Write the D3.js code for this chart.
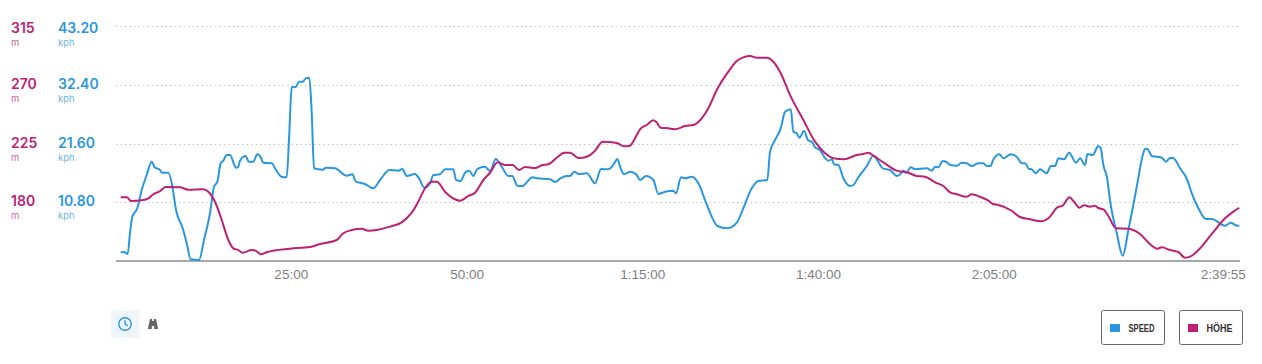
<!DOCTYPE html>
<html>
<head>
<meta charset="utf-8">
<script src="https://cdn.jsdelivr.net/npm/d3@7"></script>
<style>
    html, body { margin: 0; padding: 0; background: #fff; }
    svg { display: block; }
    .y-value { font-family: Inter, "Open Sans", sans-serif; font-weight: 600; font-size: 14px; }
    .y-unit { font-family: Inter, "Open Sans", sans-serif; font-size: 9.5px; opacity: 0.7; }
    .x-axis text { font-family: "Liberation Sans", sans-serif; font-size: 13.5px; fill: #808080; }
    .legend-label { font-family: "Liberation Sans", sans-serif; font-weight: 700; font-size: 11.5px; fill: #333; }
</style>
</head>
<body>
<svg id="chart" width="1262" height="364"></svg>
<script>
const blue = "#2a96de";
const magenta = "#bc2176";

// minutes / kph
const speedTimes = [0.81,1.28,1.81,2.13,2.46,3.17,3.80,4.51,5.22,5.69,6.30,6.73,7.58,8.07,8.68,9.63,10.20,10.77,11.95,12.66,13.51,14.08,14.55,15.04,15.41,15.89,16.36,17.21,17.54,17.78,18.59,19.02,19.67,20.24,20.63,21.10,22.29,22.90,23.71,24.42,24.79,25.13,25.75,26.17,26.70,27.13,27.64,27.98,28.31,29.54,30.01,31.29,32.96,33.76,34.28,35.56,36.74,37.70,39.02,40.30,40.87,41.49,42.67,43.24,44.00,44.81,45.28,46.23,46.94,48.12,48.51,49.17,49.79,50.36,50.97,51.54,52.63,53.34,54.15,55.01,55.95,56.51,57.23,57.94,59.36,59.99,61.88,62.59,63.30,64.25,64.72,65.33,65.90,67.10,68.28,69.13,70.17,70.88,71.45,71.84,72.40,73.36,74.21,74.68,75.53,76.57,77.28,78.24,79.42,79.80,80.51,81.08,82.03,83.11,83.92,84.88,85.68,87.10,88.44,89.37,90.57,91.51,92.79,93.17,93.88,94.69,95.31,96.12,96.49,96.97,97.34,98.01,98.62,99.10,99.57,100.28,100.85,101.46,101.95,102.28,102.89,103.60,104.55,105.02,105.73,106.93,107.87,109.20,110.24,111.19,111.56,112.13,112.52,113.19,113.80,115.46,116.17,116.64,117.11,117.74,118.21,118.78,119.73,120.44,121.15,121.86,122.80,123.51,123.99,124.56,124.85,125.79,126.36,127.41,128.26,128.98,129.45,130.01,130.30,130.97,131.58,132.53,133.10,133.71,134.18,134.99,135.70,136.70,137.27,137.98,138.31,139.07,139.87,140.21,140.58,141.07,141.63,142.49,143.34,144.14,145.33,146.19,146.51,146.84,147.47,148.89,149.50,149.97,150.46,151.49,152.53,153.16,154.10,155.19,156.00,157.89,158.70,159.32,159.92];
const speedValues = [1.60,1.65,1.29,5.15,8.14,9.69,13.05,15.81,18.25,17.15,16.86,16.23,16.23,14.34,9.38,6.01,3.25,0.31,0.18,3.86,8.77,13.66,14.58,17.96,18.44,19.49,19.49,17.15,17.33,18.44,19.30,18.25,18.25,19.61,19.30,18.07,17.96,16.73,15.50,15.39,23.47,31.93,32.04,32.96,32.96,33.58,33.70,27.21,17.04,16.78,17.15,17.04,15.68,15.94,14.58,14.15,13.36,14.89,16.73,16.60,16.91,15.63,15.99,15.20,13.47,14.28,15.81,15.94,16.86,16.86,14.89,14.71,16.23,16.60,15.63,16.91,17.33,16.54,18.75,17.33,15.63,15.63,13.84,13.79,15.39,15.20,15.02,14.52,15.13,15.63,15.63,16.42,15.99,16.12,14.28,16.91,16.86,17.65,18.75,17.33,15.94,16.42,15.81,14.89,15.63,14.89,12.32,12.74,12.92,12.44,15.39,15.20,15.50,13.97,11.21,8.14,6.43,6.01,7.04,9.69,13.36,14.71,14.89,20.09,22.24,24.39,27.44,27.89,23.77,23.47,22.67,23.90,22.11,21.93,20.90,20.40,19.17,18.44,18.69,17.78,17.65,15.20,13.79,13.97,15.39,17.46,19.36,17.04,16.73,15.63,15.81,16.60,16.23,17.22,16.86,17.04,16.60,17.33,17.22,18.38,18.25,17.65,17.52,18.07,17.96,17.46,17.96,17.96,17.46,17.46,18.44,19.61,18.88,19.61,19.17,17.96,17.96,16.91,16.91,16.12,16.86,16.12,17.46,17.46,18.88,18.69,19.91,18.07,18.88,17.65,19.67,19.49,21.14,20.72,17.65,15.50,10.29,5.09,0.97,5.70,13.66,19.49,20.59,20.59,19.30,18.99,18.25,18.88,18.99,17.04,14.89,12.44,9.69,7.72,7.72,6.49,7.04,6.62,6.43];

// minutes / metres
const heightTimes = [0.81,1.66,2.28,4.03,4.74,5.45,6.40,7.21,9.25,10.43,12.56,13.27,14.22,15.18,16.12,16.83,17.54,18.16,19.44,20.06,20.73,21.58,24.89,27.74,29.16,31.54,32.47,33.67,35.09,36.03,37.45,39.12,40.78,42.20,43.14,44.10,45.05,45.76,46.94,48.36,49.08,50.26,51.21,52.39,53.34,54.44,55.48,56.57,57.47,58.32,59.74,60.70,61.64,62.83,63.91,64.72,65.90,67.10,68.28,69.37,71.37,72.40,73.26,73.83,74.68,75.63,76.57,76.96,77.62,78.71,79.66,81.08,82.26,83.46,84.40,85.59,87.24,88.44,89.37,90.33,91.28,92.70,93.64,94.69,96.02,97.91,99.57,101.00,102.18,103.70,105.50,106.44,107.15,107.87,109.29,111.19,112.84,114.04,115.22,116.64,117.82,118.78,119.73,121.15,121.86,123.04,124.22,124.85,125.65,127.55,128.63,130.16,131.82,132.76,134.04,134.80,135.75,136.41,137.17,137.88,138.69,139.40,139.87,140.58,141.29,142.39,144.14,145.80,147.23,148.26,148.89,150.07,151.25,152.20,152.92,154.10,156.00,157.89,159.07,159.92];
const heightValues = [183.8,183.8,181.0,181.7,183.0,186.1,188.6,191.7,191.4,189.6,189.9,188.1,180.4,166.4,151.1,144.7,143.4,141.4,143.4,142.7,140.1,141.7,144.4,145.7,148.0,151.1,156.2,158.7,159.7,158.2,159.0,161.3,164.6,172.0,180.4,190.7,195.7,195.7,188.1,182.3,181.2,184.8,187.3,197.0,202.6,210.6,208.5,208.5,204.7,207.0,206.2,208.3,209.1,214.1,218.0,218.0,213.9,214.9,219.5,226.4,225.4,222.9,223.3,227.7,235.9,239.2,242.8,241.7,237.1,236.6,235.9,238.4,239.2,244.3,252.0,266.0,280.0,288.2,291.0,292.0,290.7,290.7,287.6,278.8,262.1,243.0,226.4,217.5,213.7,212.9,216.2,217.0,218.0,215.7,210.6,204.2,202.6,200.1,199.6,195.3,192.4,187.6,186.1,184.2,186.1,184.2,181.2,178.7,177.9,173.5,168.9,166.9,165.4,167.7,176.1,177.4,183.8,180.4,175.8,177.7,176.6,177.4,175.6,174.6,169.5,160.0,159.7,155.7,147.8,144.4,145.5,143.4,141.9,137.5,138.3,143.4,155.7,167.7,172.8,175.8];

const speedTicks = [10.8, 21.6, 32.4, 43.2];
const heightTicks = [180, 225, 270, 315];
const timeTicks = [25, 50, 75, 100, 125, 159.9167];
const legendLabels = ["SPEED", "HÖHE"];
const legendColors = [blue, magenta];

const svg = d3.select("#chart");

const x = d3.scaleLinear().domain([0, 159.9167]).range([115, 1239.3]);
const ySpeed = d3.scaleLinear().domain([0, 43.2]).range([261, 26]);
const yHeight = d3.scaleLinear().domain([135, 315]).range([261, 26]);

// dotted grid
svg.append("g").selectAll("line")
    .data(speedTicks)
    .enter()
    .append("line")
    .attr("x1", 116)
    .attr("x2", 1240)
    .attr("y1", d => Math.round(ySpeed(d)) + 0.5)
    .attr("y2", d => Math.round(ySpeed(d)) + 0.5)
    .attr("stroke", "#c4c4c4")
    .attr("stroke-width", 1)
    .attr("stroke-dasharray", "1.5,3");

// y labels on the left, the top one sits a bit lower than its grid line
const labelY = py => Math.max(33, py + 4);

const heightLabels = svg.append("g").selectAll("g")
    .data(heightTicks)
    .enter()
    .append("g")
    .attr("fill", magenta);
heightLabels.append("text")
    .attr("class", "y-value")
    .attr("x", 11)
    .attr("y", d => labelY(yHeight(d)))
    .text(d => d);
heightLabels.append("text")
    .attr("class", "y-unit")
    .attr("x", 11)
    .attr("y", d => labelY(yHeight(d)) + 13)
    .text("m");

const speedLabels = svg.append("g").selectAll("g")
    .data(speedTicks)
    .enter()
    .append("g")
    .attr("fill", blue);
speedLabels.append("text")
    .attr("class", "y-value")
    .attr("x", 58)
    .attr("y", d => labelY(ySpeed(d)))
    .text(d => d.toFixed(2));
speedLabels.append("text")
    .attr("class", "y-unit")
    .attr("x", 58)
    .attr("y", d => labelY(ySpeed(d)) + 13)
    .text("kph");

// time axis
const formatTime = m => {
    const secs = Math.round(m * 60);
    const h = Math.floor(secs / 3600);
    const mm = String(Math.floor(secs % 3600 / 60)).padStart(2, "0");
    const ss = String(secs % 60).padStart(2, "0");
    return h > 0 ? `${h}:${mm}:${ss}` : `${mm}:${ss}`;
};

const xAxis = d3.axisBottom(x)
    .tickValues(timeTicks)
    .tickFormat(formatTime)
    .tickSize(0)
    .tickPadding(8);

const xAxisGroup = svg.append("g")
    .attr("class", "x-axis")
    .attr("transform", "translate(0, 261)")
    .call(xAxis);
xAxisGroup.select(".domain")
    .attr("stroke", "#a8a8a8")
    .attr("stroke-width", 2)
    .attr("d", "M116,0H1240");
// last label is kept inside the chart
xAxisGroup.selectAll(".tick text")
    .filter(d => d === timeTicks[timeTicks.length - 1])
    .attr("text-anchor", "end")
    .attr("dx", 6);

// lines
const speedLine = d3.line()
    .x((d, i) => x(speedTimes[i]))
    .y(d => ySpeed(d))
    .curve(d3.curveMonotoneX);

const heightLine = d3.line()
    .x((d, i) => x(heightTimes[i]))
    .y(d => yHeight(d))
    .curve(d3.curveMonotoneX);

svg.append("path")
    .datum(speedValues)
    .attr("d", speedLine)
    .attr("fill", "none")
    .attr("stroke", blue)
    .attr("stroke-width", 2)
    .attr("stroke-linejoin", "round");

svg.append("path")
    .datum(heightValues)
    .attr("d", heightLine)
    .attr("fill", "none")
    .attr("stroke", magenta)
    .attr("stroke-width", 2)
    .attr("stroke-linejoin", "round");

// view toggle icons
svg.append("rect")
    .attr("x", 111).attr("y", 310)
    .attr("width", 28).attr("height", 28)
    .attr("fill", "#eef6fc");
const clock = svg.append("g")
    .attr("transform", "translate(125, 324)")
    .attr("fill", "none")
    .attr("stroke", blue)
    .attr("stroke-width", 1.4);
clock.append("circle").attr("r", 6.2);
clock.append("path").attr("d", "M0,-3.5V0L2.8,2");

svg.append("path")
    .attr("transform", "translate(153, 324)")
    .attr("d", "M-3,-5H-0.8V-3H0.8V-5H3L5.2,5H1.2V2H-1.2V5H-5.2Z")
    .attr("fill", "#666");

// legend buttons
const legend = svg.append("g").selectAll("g")
    .data(legendLabels)
    .enter()
    .append("g")
    .attr("transform", (d, i) => `translate(${1101 + i * 78}, 310)`);
legend.append("rect")
    .attr("x", 0.5).attr("y", 0.5)
    .attr("width", 63).attr("height", 34)
    .attr("rx", 2)
    .attr("fill", "#fff")
    .attr("stroke", "#666");
legend.append("rect")
    .attr("x", 9).attr("y", 14)
    .attr("width", 10).attr("height", 8)
    .attr("fill", (d, i) => legendColors[i]);
// the original face is condensed, so squeeze the glyphs
legend.append("text")
    .attr("class", "legend-label")
    .attr("x", 27.5).attr("y", 21.5)
    .attr("textLength", 26)
    .attr("lengthAdjust", "spacingAndGlyphs")
    .text(d => d);
</script>
</body>
</html>
